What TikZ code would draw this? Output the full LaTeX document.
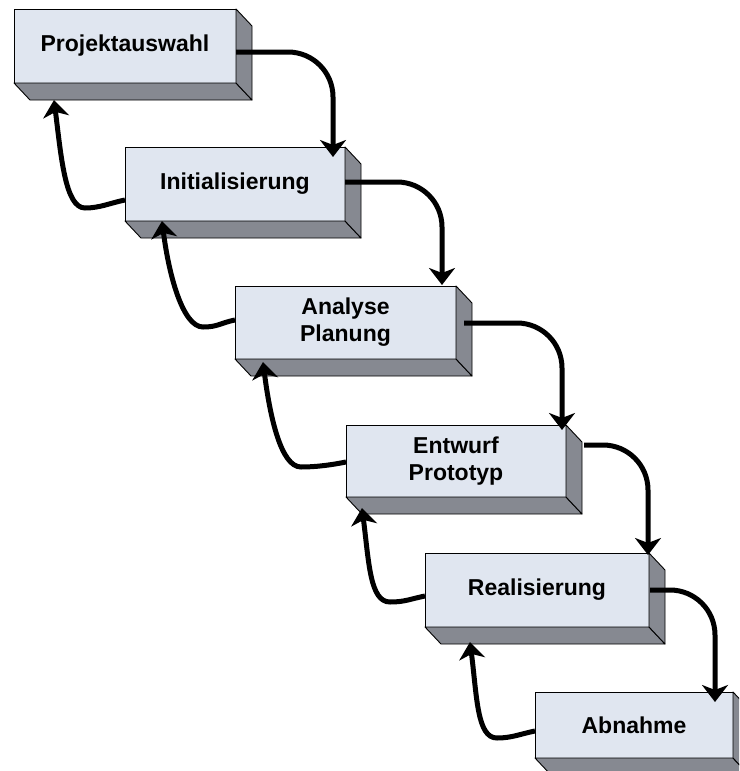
\documentclass[tikz,border=0pt]{standalone}
\usepackage{fontspec}
\setmainfont{Liberation Sans}
\usetikzlibrary{arrows.meta,calc}

\definecolor{faceFront}{RGB}{224,230,240}
\definecolor{faceSide}{RGB}{134,137,145}

\tikzset{
  stage/.style={draw=black, line width=0.9pt, fill=faceFront, inner sep=0pt,
    outer sep=0pt, anchor=north west, align=center,
    font=\fontsize{23}{27}\selectfont\bfseries},
  depthface/.style={draw=black, line width=0.9pt, fill=faceSide, line join=round},
  flow/.style={line width=5pt, -{Stealth[length=17pt,width=26pt,inset=5pt]}},
  forward/.style={flow, rounded corners=45pt},
}

% bottom and right faces of a slab whose front face is node #1
\newcommand\depthfaces[1]{%
  \draw[depthface] (#1.south west) -- ++(16,17) -- ($(#1.south east)+(16,17)$)
    -- (#1.south east) -- cycle;
  \draw[depthface] (#1.north east) -- ++(16,17) -- ($(#1.south east)+(16,17)$)
    -- (#1.south east) -- cycle;
}

\begin{document}
\begin{tikzpicture}[x=1pt, y=-1pt]
  \useasboundingbox (0,0) rectangle (739,771);
  \clip (0,0) rectangle (739,771);

  % stages
  \node[stage, minimum width=222, minimum height=74] (b1) at (14,9) {Projektauswahl};
  \node[stage, minimum width=220, minimum height=74] (b2) at (125,147) {Initialisierung};
  \node[stage, minimum width=221, minimum height=73] (b3) at (235,286) {Analyse\\Planung};
  \node[stage, minimum width=220, minimum height=72] (b4) at (346,425) {Entwurf\\Prototyp};
  \node[stage, minimum width=224, minimum height=74] (b5) at (425,553) {Realisierung};
  \node[stage, minimum width=198, minimum height=66] (b6) at (535,692) {Abnahme};

  \depthfaces{b1}
  \depthfaces{b2}
  \depthfaces{b3}
  \depthfaces{b4}
  \depthfaces{b5}
  \depthfaces{b6}

  % forward steps
  \draw[forward] ($(b1.east)+(0,6)$) -| ($(b2.north east)+(-12,10)$);
  \draw[forward] ($(b2.east)+(0,-2)$) -| ($(b3.north east)+(-14,-1)$);
  \draw[forward] ($(b3.east)+(8,0.5)$) -| ($(b4.north east)+(-4,5)$);
  \draw[forward] ($(b4.east)+(18,-16)$) -| ($(b5.north east)+(-1,2)$);
  \draw[forward] ($(b5.east)+(1,0)$) -| ($(b6.north east)+(-18,10)$);

  % feedback steps
  \draw[flow] ($(b2.west)+(0,16)$) .. controls +(-15,3) and +(15,0) .. ++(-40,8)
    .. controls +(-20,0) and +(7,55) .. ($(b1.south west)+(40,17)$);
  \draw[flow] ($(b3.west)+(0,-2.5)$) .. controls +(-15,3) and +(15,0) .. ++(-32,7)
    .. controls +(-20,0) and +(7,55) .. ($(b2.south west)+(37,0)$);
  \draw[flow] ($(b4.west)+(0,1)$) .. controls +(-15,3) and +(15,0) .. ++(-45,5)
    .. controls +(-20,0) and +(7,55) .. ($(b3.south west)+(28,3)$);
  \draw[flow] ($(b5.west)+(0,6)$) .. controls +(-15,3) and +(15,0) .. ++(-35,6)
    .. controls +(-20,0) and +(7,55) .. ($(b4.south west)+(16,11)$);
  \draw[flow] ($(b6.west)+(0,6)$) .. controls +(-15,3) and +(15,0) .. ++(-38,7)
    .. controls +(-20,0) and +(7,55) .. ($(b5.south west)+(45,15)$);
\end{tikzpicture}
\end{document}
